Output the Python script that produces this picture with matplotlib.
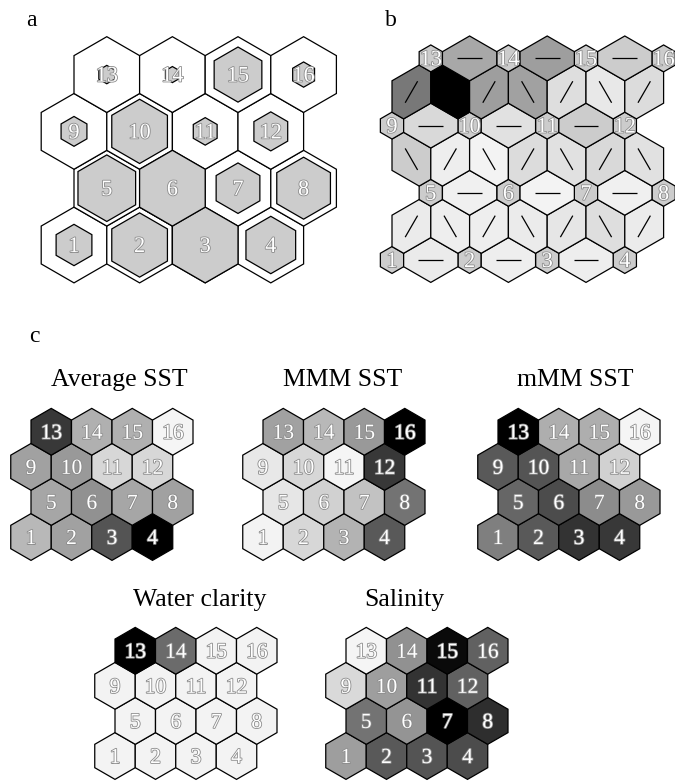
import numpy as np
import matplotlib
matplotlib.use("Agg")
import matplotlib.pyplot as plt
from matplotlib.patches import Polygon
import matplotlib.patheffects as pe

plt.rcParams['font.family'] = ['Liberation Serif', 'DejaVu Serif']

FIG_W, FIG_H, DPI = 675, 782, 100

# ---------------------------------------------------------------- data
units = list(range(1, 17))

# (a) hit histogram: samples mapped to each unit
hits = [18, 28, 33, 25, 29, 33, 22, 27, 13, 28, 12, 17, 8, 7, 24, 11]

# (b) U-matrix distances (0 = similar, 1 = far)
umat_unit_dist = 0.20
umat_row0_edges = [0.08, 0.07, 0.07]                      # 1-2, 2-3, 3-4
umat_row1_links = [0.08, 0.07, 0.07, 0.08, 0.10, 0.13, 0.08]
umat_row2_edges = [0.06, 0.05, 0.06]                      # 5-6, 6-7, 7-8
umat_row3_links = [0.20, 0.07, 0.05, 0.14, 0.12, 0.15, 0.12]
umat_row4_edges = [0.15, 0.12, 0.20]                      # 9-10, 10-11, 11-12
umat_row5_links = [0.53, 1.00, 0.38, 0.37, 0.13, 0.09, 0.14]
umat_row6_edges = [0.34, 0.38, 0.20]                      # 13-14, 14-15, 15-16

# (c) component planes, normalised (1 = darkest)
plane_names = ["Average SST", "MMM SST", "mMM SST", "Water clarity", "Salinity"]
avg_sst = [0.28, 0.37, 0.67, 1.00, 0.35, 0.43, 0.35, 0.37,
           0.37, 0.40, 0.16, 0.16, 0.78, 0.31, 0.31, 0.04]
mmm_sst = [0.05, 0.16, 0.30, 0.65, 0.10, 0.18, 0.24, 0.55,
           0.09, 0.16, 0.04, 0.78, 0.37, 0.28, 0.40, 1.00]
mmm_min_sst = [0.50, 0.65, 0.80, 0.78, 0.60, 0.70, 0.45, 0.40,
               0.65, 0.67, 0.34, 0.18, 1.00, 0.32, 0.32, 0.04]
water_clarity = [0.05, 0.05, 0.05, 0.05, 0.05, 0.05, 0.05, 0.05,
                 0.05, 0.05, 0.05, 0.05, 1.00, 0.58, 0.05, 0.05]
salinity = [0.38, 0.65, 0.67, 0.70, 0.55, 0.42, 1.00, 0.82,
            0.15, 0.38, 0.80, 0.62, 0.04, 0.43, 0.96, 0.62]

# ---------------------------------------------------------------- helpers
fig = plt.figure(figsize=(FIG_W / DPI, FIG_H / DPI), dpi=DPI)
cmap = plt.get_cmap('gray_r')

R = 1 / np.sqrt(3)
ANG = np.deg2rad(30 + 60 * np.arange(6))
HEX = np.c_[R * np.cos(ANG), R * np.sin(ANG)]
ROW_H = np.sqrt(3) / 2

LABEL_FX = [pe.withStroke(linewidth=1.2, foreground='#8c8c8c')]


def unit_xy(n):
    row, col = divmod(n - 1, 4)
    return col + 0.5 * (row % 2), row * ROW_H


def lattice_axes(origin, scale, xr, yr):
    """Axes whose lattice point (0, 0) sits at pixel `origin` (from top-left)."""
    ox, oy = origin
    left = ox + xr[0] * scale
    width = (xr[1] - xr[0]) * scale
    bottom = oy - yr[0] * scale
    height = (yr[1] - yr[0]) * scale
    ax = fig.add_axes([left / FIG_W, 1 - bottom / FIG_H,
                       width / FIG_W, height / FIG_H])
    ax.set_xlim(*xr)
    ax.set_ylim(*yr)
    ax.axis('off')
    return ax


def unit_label(ax, x, y, n, size):
    ax.text(x, y, str(n), ha='center', va='center_baseline', color='white',
            fontsize=size, path_effects=LABEL_FX, zorder=6)


def px(x, y):
    return x / FIG_W, 1 - y / FIG_H


# ---------------------------------------------------------------- (a) hits
ax_a = lattice_axes((74, 245), 65.6, (-0.6, 4.1), (-0.62, 3.25))
hmax = max(hits)
for n in units:
    cx, cy = unit_xy(n)
    ax_a.add_patch(Polygon(HEX + (cx, cy), closed=True, fc='white',
                           ec='black', lw=0.9, zorder=1))
for n, h in zip(units, hits):
    cx, cy = unit_xy(n)
    ax_a.add_patch(Polygon(HEX * (h / hmax) + (cx, cy), closed=True,
                           fc='#cccccc', ec='black', lw=0.9, zorder=2))
    unit_label(ax_a, cx, cy, n, 16)
fig.text(*px(31, 20), 'a', fontsize=17, ha='center', va='center')

# ---------------------------------------------------------------- (b) U-matrix
ax_b = lattice_axes((392, 260), 38.8, (-0.7, 7.7), (-0.75, 6 * ROW_H + 0.75))
SHRINK = 0.6
LINK_HALF = 0.32

edge_rows = [umat_row0_edges, umat_row2_edges, umat_row4_edges, umat_row6_edges]
link_rows = [umat_row1_links, umat_row3_links, umat_row5_links]

cells = []          # (x, y, distance, line angle or None, unit number or None)
unit_centres = []
for r in range(7):
    y = r * ROW_H
    if r % 2 == 0:
        i = r // 2
        off = i % 2
        for j in range(4):
            unit_centres.append((2 * j + off, y))
            cells.append((2 * j + off, y, umat_unit_dist, None, 4 * i + j + 1))
        for j in range(3):
            cells.append((2 * j + 1 + off, y, edge_rows[i][j], 0.0, None))
    else:
        i = (r - 1) // 2
        low_off = i % 2
        for k in range(7):
            ang = 60.0 if (k % 2) == low_off else 120.0
            cells.append((0.5 + k, y, link_rows[i][k], ang, None))

unit_centres = np.array(unit_centres)


def cell_vertices(cx, cy):
    verts = HEX + (cx, cy)
    for m in range(6):
        d = np.hypot(*(unit_centres - verts[m]).T)
        hit = np.where(d < R * 1.01)[0]
        if len(hit):
            u = unit_centres[hit[0]]
            verts[m] = u + SHRINK * (verts[m] - u)
    return verts


for cx, cy, dist, ang, num in cells:
    ax_b.add_patch(Polygon(cell_vertices(cx, cy), closed=True,
                           fc=cmap(dist), ec='black', lw=0.9, zorder=1))
    if ang is not None:
        dx = LINK_HALF * np.cos(np.deg2rad(ang))
        dy = LINK_HALF * np.sin(np.deg2rad(ang))
        ax_b.plot([cx - dx, cx + dx], [cy - dy, cy + dy], color='black',
                  lw=0.9, zorder=3, solid_capstyle='butt')
    if num is not None:
        unit_label(ax_b, cx, cy, num, 16)
fig.text(*px(391, 20), 'b', fontsize=17, ha='center', va='center')

# ---------------------------------------------------------------- (c) planes
fig.text(*px(34, 337), 'c', fontsize=17, ha='center', va='center')

planes = [avg_sst, mmm_sst, mmm_min_sst, water_clarity, salinity]
plane_origin = [(31, 537), (263, 537), (498, 537), (115, 756), (346, 756)]
title_pos = [(119, 380), (343, 380), (575, 380), (200, 600), (404, 600)]

for name, vals, org, tpos in zip(plane_names, planes, plane_origin, title_pos):
    ax = lattice_axes(org, 40.5, (-0.55, 4.05), (-0.62, 3 * ROW_H + 0.62))
    for n, v in zip(units, vals):
        cx, cy = unit_xy(n)
        ax.add_patch(Polygon(HEX + (cx, cy), closed=True, fc=cmap(v),
                             ec='black', lw=0.9, zorder=1))
        unit_label(ax, cx, cy, n, 15.5)
    fig.text(*px(*tpos), name, fontsize=18.5, ha='center', va='center')

fig.savefig('out.png', dpi=DPI)
